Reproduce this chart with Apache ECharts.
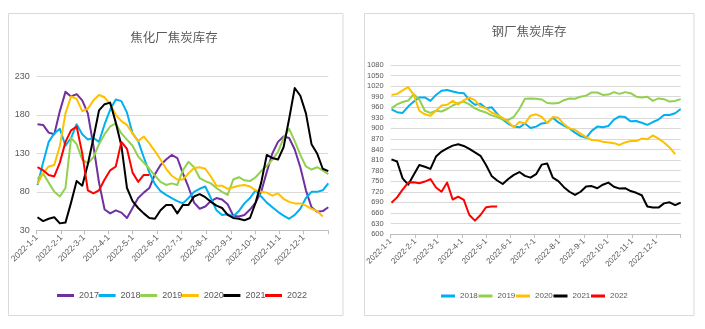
<!DOCTYPE html>
<html><head><meta charset="utf-8">
<script src="https://cdn.jsdelivr.net/npm/echarts@6/dist/echarts.min.js"></script>
<style>html,body{margin:0;padding:0;background:#fff}#c{width:705px;height:329px}</style>
</head><body><div id="c"></div>
<script>
// ---------- data ----------
const monthLabels = ['2022-1-1','2022-2-1','2022-3-1','2022-4-1','2022-5-1','2022-6-1','2022-7-1','2022-8-1','2022-9-1','2022-10-1','2022-11-1','2022-12-1'];
const axisEnd = '2023-1-1';
const cokingTitle = '焦化厂焦炭库存';
const steelTitle = '钢厂焦炭库存';
const cokingYears = ['2017','2018','2019','2020','2021','2022'];
const steelYears = ['2018','2019','2020','2021','2022'];
const cokingYTicks = [30, 80, 130, 180, 230];
const steelYTicks = [600,630,660,690,720,750,780,810,840,870,900,930,960,990,1020,1050,1080];

// 焦化厂焦炭库存 (weekly)
const coking2017 = [168,167,157,155,185,210,204,207,199,182,140,92,57,52,56,53,46,59,72,79,85,103,115,122,128,124,104,86,66,58,61,68,72,70,64,49,48,50,57,66,80,106,130,145,152,150,135,112,82,60,54,55,60];
const coking2018 = [89,118,145,156,162,140,150,168,155,148,150,145,168,187,200,198,183,156,146,125,105,90,81,76,72,68,65,72,80,84,87,72,56,50,51,48,55,65,72,82,74,66,60,54,49,45,50,58,72,80,80,82,91];
const coking2019 = [97,104,92,80,74,85,150,142,122,117,125,142,155,165,169,156,148,140,126,118,110,101,93,89,91,89,108,119,112,98,94,91,85,80,76,96,99,95,94,99,107,114,122,132,150,162,146,128,113,109,112,108,103];
const coking2020 = [90,104,113,115,140,182,204,201,185,188,199,206,203,194,180,172,167,156,146,152,143,133,122,110,101,96,96,104,111,112,110,100,88,88,84,86,88,89,87,82,80,79,75,78,71,67,65,65,62,58,55,48];
const coking2021 = [47,42,45,47,39,40,66,94,88,116,150,186,194,196,170,140,85,68,59,52,46,45,56,63,63,52,63,63,74,77,73,67,62,59,50,46,45,43,46,66,92,128,124,122,138,175,215,205,182,142,130,110,107];
const coking2022 = [112,108,102,100,118,145,160,165,130,82,78,82,96,108,113,145,136,105,93,102,102];

// 钢厂焦炭库存 (weekly)
const steel2018 = [954,946,944,962,976,988,988,978,995,1007,1009,1005,1001,1000,980,967,970,957,960,942,925,913,905,903,914,901,905,914,916,930,917,908,900,888,878,873,893,905,903,907,925,934,932,920,921,916,910,918,925,938,938,943,955];
const steel2019 = [957,968,975,979,997,982,950,944,950,948,955,965,972,976,968,957,950,945,937,932,925,924,933,955,984,985,984,982,972,971,972,980,985,984,990,993,1002,1002,995,996,1003,998,1003,1000,990,988,990,978,985,983,976,978,983];
const steel2020 = [995,998,1008,1017,995,950,940,936,950,965,967,978,968,980,987,980,962,957,945,938,930,918,903,918,914,936,940,933,915,932,930,912,900,896,885,875,867,866,862,860,858,853,860,864,864,871,869,880,871,860,846,827];
const steel2021 = [812,806,758,740,768,796,791,785,820,834,843,851,855,850,842,832,822,796,765,752,742,756,768,776,765,760,770,797,800,760,750,733,720,711,720,735,736,730,740,746,734,729,730,722,717,710,678,675,675,687,690,682,689];
const steel2022 = [689,704,726,746,747,744,749,756,732,720,746,698,706,697,654,638,654,676,678,678];

const yearColors = {'2017':'#7030A0','2018':'#00B0F0','2019':'#92D050','2020':'#FFC000','2021':'#000000','2022':'#FF0000'};

// ---------- axis categories (every day of the year) ----------
const dayCategories = [];
for (let d = new Date(2022, 0, 1); d <= new Date(2023, 0, 1); d.setDate(d.getDate() + 1)) {
  dayCategories.push(d.getFullYear() + '-' + (d.getMonth() + 1) + '-' + d.getDate());
}
// weekly sample dates
const weekDates = [];
for (let i = 0; i < 53; i++) weekDates.push(dayCategories[1 + 7 * i]);

const pair = vals => vals.map((v, i) => [weekDates[i], v]);

const labelFont = "'Liberation Sans',Arial,sans-serif";
const grey = '#595959';

function xAxisCfg(gridIndex, fs) {
  return {
    type: 'category', gridIndex, data: dayCategories, boundaryGap: false,
    axisLine: { lineStyle: { color: '#bfbfbf', width: 1 } },
    axisTick: { show: true, length: 4, interval: (i, v) => monthLabels.includes(v) || v === axisEnd, lineStyle: { color: '#bfbfbf' } },
    axisLabel: { interval: (i, v) => monthLabels.includes(v), rotate: 45, fontSize: fs, color: grey, fontFamily: labelFont, margin: 6 },
    splitLine: { show: false }
  };
}
function yAxisCfg(gridIndex, ticks, fs) {
  return {
    type: 'value', gridIndex, min: ticks[0], max: ticks[ticks.length - 1], interval: ticks[1] - ticks[0],
    axisLine: { show: false }, axisTick: { show: false },
    axisLabel: { fontSize: fs, color: grey, fontFamily: labelFont, margin: 7, formatter: v => String(v) },
    splitLine: { lineStyle: { color: '#d9d9d9', width: 1 } }
  };
}
function lineSeries(name, vals, idx) {
  return {
    name, type: 'line', xAxisIndex: idx, yAxisIndex: idx, data: pair(vals),
    symbol: 'none', smooth: false, color: yearColors[name],
    lineStyle: { width: 2, color: yearColors[name], join: 'round' }, emphasis: { disabled: true }
  };
}
function legendItems(years, startX, step, top, iconW, fs) {
  return years.map((y, k) => ({
    data: [y], left: startX + k * step, top, icon: 'rect', itemWidth: iconW, itemHeight: 3, padding: 0,
    textStyle: { fontSize: fs, color: grey, fontFamily: labelFont }
  }));
}

const chart = echarts.init(document.getElementById('c'), null, { renderer: 'canvas' });
chart.setOption({
  animation: false,
  backgroundColor: '#fff',
  graphic: [
    { type: 'rect', shape: { x: 8.5, y: 13.5, width: 334.5, height: 302 }, style: { fill: 'none', stroke: '#d9d9d9', lineWidth: 1 }, silent: true },
    { type: 'rect', shape: { x: 364.5, y: 13.5, width: 329.5, height: 302 }, style: { fill: 'none', stroke: '#d9d9d9', lineWidth: 1 }, silent: true }
  ],
  title: [
    { text: cokingTitle, left: 174, top: 31, textAlign: 'center', padding: 0, textStyle: { fontSize: 12.5, fontWeight: 'normal', color: grey, fontFamily: "'Noto Sans CJK SC',sans-serif" } },
    { text: steelTitle, left: 529, top: 25, textAlign: 'center', padding: 0, textStyle: { fontSize: 12.5, fontWeight: 'normal', color: grey, fontFamily: "'Noto Sans CJK SC',sans-serif" } }
  ],
  legend: legendItems(cokingYears, 57, 41.6, 291, 17, 9).concat(legendItems(steelYears, 441, 37.5, 292, 14, 8)),
  grid: [
    { left: 36.7, top: 76.5, width: 291.6, height: 153.8 },
    { left: 390.7, top: 65, width: 290, height: 169 }
  ],
  xAxis: [xAxisCfg(0, 8.5), xAxisCfg(1, 8)],
  yAxis: [yAxisCfg(0, cokingYTicks, 9), yAxisCfg(1, steelYTicks, 7.5)],
  series: [
    lineSeries('2017', coking2017, 0),
    lineSeries('2018', coking2018, 0),
    lineSeries('2019', coking2019, 0),
    lineSeries('2020', coking2020, 0),
    lineSeries('2021', coking2021, 0),
    lineSeries('2022', coking2022, 0),
    lineSeries('2018', steel2018, 1),
    lineSeries('2019', steel2019, 1),
    lineSeries('2020', steel2020, 1),
    lineSeries('2021', steel2021, 1),
    lineSeries('2022', steel2022, 1)
  ]
});
</script></body></html>
